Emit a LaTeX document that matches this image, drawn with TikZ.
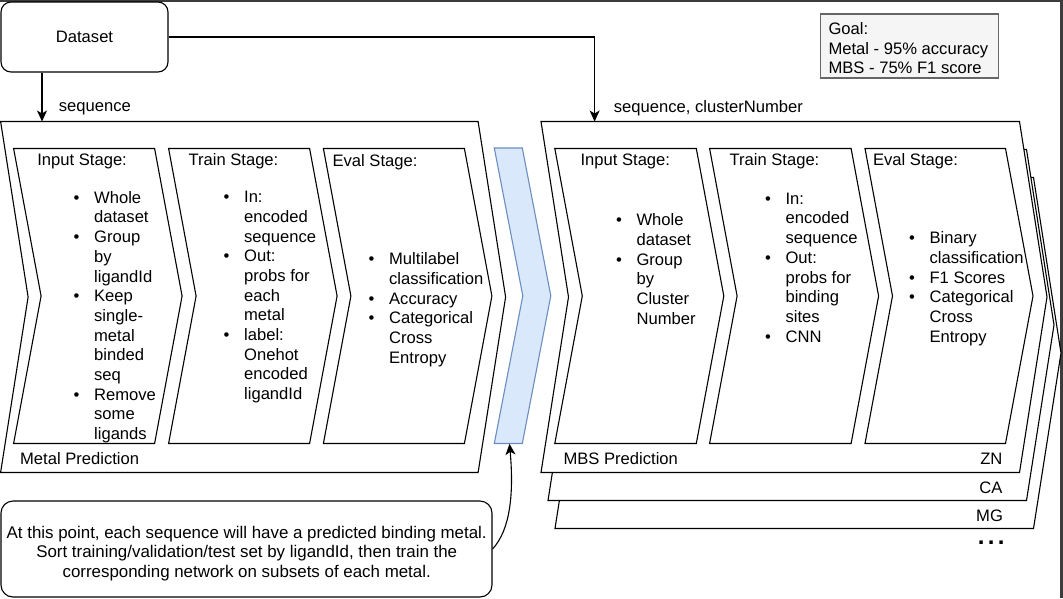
\documentclass[tikz,border=0pt]{standalone}
\usepackage{fontspec}
\setmainfont{Liberation Sans}
\usetikzlibrary{arrows.meta}
\definecolor{bluefill}{HTML}{DAE8FC}
\definecolor{bluedraw}{HTML}{6C8EBF}
\definecolor{goalfill}{HTML}{F5F5F5}
\definecolor{goaldraw}{HTML}{666666}
\definecolor{framecol}{HTML}{3C3C3C}
\newcommand{\myb}{\llap{\textbullet\hspace{14.6pt}}}
% step shape: [opts] x, ytop, width, height, notch
\newcommand{\stepshp}[6][]{\draw[#1] (#2,#3) -- ++(#4,0) -- ++(#6,#5/2) -- ++(-#6,#5/2) -- ++(-#4,0) -- ++(#6,-#5/2) -- cycle;}
\begin{document}
\begin{tikzpicture}[x=1pt,y=-1pt,line width=1.1pt,
  font=\fontsize{16.6}{19.7}\selectfont,
  lbl/.style={inner sep=0pt,anchor=west},
  lst/.style={inner sep=0pt,anchor=north west,align=left},
  arr/.style={-{Stealth[length=11pt,width=10pt,inset=3pt]}},
  stagebox/.style={draw=black,fill=white},
  roundbox/.style={draw=black,fill=white,inner sep=0pt}]
\useasboundingbox (0,0) rectangle (1063,598);
\fill[white] (0,0) rectangle (1063,598);
% frame artefacts
\fill[framecol] (0,0) rectangle (1063,1.8);
\fill[framecol] (1060,0) rectangle (1063,598);

% Dataset
\node[roundbox,rounded corners=10pt,minimum width=167pt,minimum height=70pt] (ds) at (84.5,37) {Dataset};
\coordinate (mtop) at (42,121.5);
\coordinate (btop) at (594.6,121.5);
\draw[arr] (ds.south -| mtop) -- (mtop);
\draw[arr] (ds.east) -| (btop);
\node[lbl] (seq1) at (58.3,108.3) {sequence};
\node[lbl] (seq2) at (613.3,108.3) {sequence, clusterNumber};

% Metal prediction
\stepshp[stagebox]{0.6}{121.5}{477.5}{351}{27.5}
\stepshp[stagebox]{13.6}{148.5}{141}{295}{27.5}
\stepshp[stagebox]{168.6}{148.5}{141}{295}{27.5}
\stepshp[stagebox]{323.4}{148.5}{141}{295}{27.5}
\node[lbl] (mi) at (36.8,161) {Input Stage:};
\node[lbl] (mt) at (188,161) {Train Stage:};
\node[lbl] (me) at (332,162) {Eval Stage:};
\node[lst] (mil) at (93.6,190.7) {\myb Whole\\dataset\\\myb Group\\by\\ligandId\\\myb Keep\\single-{}\\metal\\binded\\seq\\\myb Remove\\some\\ligands};
\node[lst] (mtl) at (243.6,190.7) {\myb In:\\encoded\\sequence\\\myb Out:\\probs for\\each\\metal\\\myb label:\\Onehot\\encoded\\ligandId};
\node[lst] (mel) at (388.6,252.3) {\myb Multilabel\\classification\\\myb Accuracy\\\myb Categorical\\Cross\\Entropy};
\node[lbl] (mpl) at (19.6,458.3) {Metal Prediction};

% blue chevron
\stepshp[draw=bluedraw,fill=bluefill]{494.3}{148}{28}{295.5}{28.5}
\coordinate (bluebot) at (509.5,443.8);

% MBS stack
\stepshp[stagebox]{555}{177.5}{478.5}{351}{27.5}
\stepshp[stagebox]{548}{149.5}{478.5}{351}{27.5}
\stepshp[stagebox]{541}{121.5}{478.5}{351}{27.5}
\stepshp[stagebox]{554.8}{148.5}{141.5}{295}{27.5}
\stepshp[stagebox]{709.6}{148.5}{141.5}{295}{27.5}
\stepshp[stagebox]{865}{148.5}{140.5}{295}{27.5}
\node[lbl] (bi) at (580,161.7) {Input Stage:};
\node[lbl] (bt) at (729,161.7) {Train Stage:};
\node[lbl] (be) at (872.5,161.7) {Eval Stage:};
\node[lst] (bil) at (636,213.3) {\myb Whole\\dataset\\\myb Group\\by\\Cluster\\Number};
\node[lst] (btl) at (785,192.3) {\myb In:\\encoded\\sequence\\\myb Out:\\probs for\\binding\\sites\\\myb CNN};
\node[lst] (bel) at (929,231.3) {\myb Binary\\classification\\\myb F1 Scores\\\myb Categorical\\Cross\\Entropy};
\node[lbl] (bpl) at (563,459) {MBS Prediction};
\node[inner sep=0pt,anchor=east] (zn) at (1003,458.5) {ZN};
\node[inner sep=0pt,anchor=east] (ca) at (1003,487.3) {CA};
\node[inner sep=0pt,anchor=east] (mg) at (1003.5,515.7) {MG};
\node[inner sep=0pt,anchor=base east] (dots) at (1005,544.2) {\fontsize{24}{26}\selectfont\bfseries .\hspace{3.3pt}.\hspace{3.3pt}.};

% Goal box
\node[draw=goaldraw,fill=goalfill,line width=1.3pt,inner sep=0pt,minimum width=177.6pt,minimum height=64pt] (goal) at (909.5,46) {};
\node[lst] (goaltxt) at (828,22) {Goal:\\Metal - 95\% accuracy\\MBS - 75\% F1 score};

% Note box
\node[roundbox,rounded corners=12pt,minimum width=491pt,minimum height=96pt] (note) at (246.5,549) {};
\node[inner sep=0pt,align=center,font=\fontsize{16.9}{19.7}\selectfont] (notetxt) at (246.7,553.5) {At this point, each sequence will have a predicted binding metal.\\Sort training/validation/test set by ligandId, then train the\\corresponding network on subsets of each metal.};
\draw[arr] (note.east) .. controls (510,530) and (514,495) .. (bluebot);
\end{tikzpicture}
\end{document}
